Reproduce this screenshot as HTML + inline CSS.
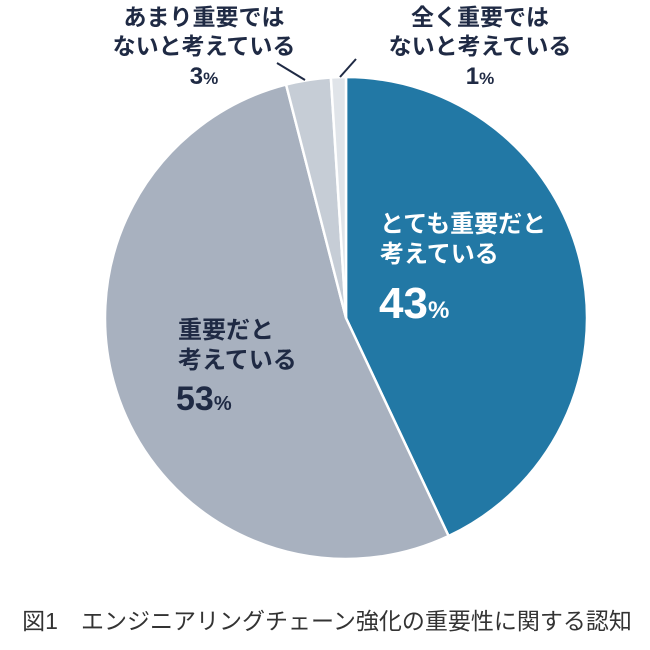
<!DOCTYPE html>
<html><head><meta charset="utf-8"><style>
body{margin:0;background:#fff;width:650px;height:645px;overflow:hidden;font-family:"Liberation Sans","Noto Sans CJK JP",sans-serif}
svg text{font-family:"Liberation Sans","Noto Sans CJK JP",sans-serif;font-weight:bold}
</style></head><body>
<svg width="650" height="645">
<g id="slices"></g>
<line x1="277" y1="63" x2="305" y2="80" stroke="#1f2a44" stroke-width="2"/>
<line x1="340" y1="77" x2="356" y2="59" stroke="#1f2a44" stroke-width="2"/>
<g fill="#1f2a44" font-size="23" text-anchor="middle">
<text x="204" y="25">あまり重要では</text><text x="204" y="54">ないと考えている</text><text x="204" y="84" font-size="24">3<tspan font-size="17">%</tspan></text></g>
<g fill="#1f2a44" font-size="23" text-anchor="middle">
<text x="480" y="25">全く重要では</text><text x="480" y="54">ないと考えている</text><text x="480" y="84" font-size="24">1<tspan font-size="17">%</tspan></text></g>
<g fill="#fff" font-size="24">
<text x="380" y="232">とても重要だと</text><text x="380" y="262">考えている</text><text x="379" y="318" font-size="44">43<tspan font-size="24">%</tspan></text></g>
<g fill="#1f2a44" font-size="24">
<text x="178" y="338">重要だと</text><text x="178" y="368">考えている</text><text x="176" y="410" font-size="34">53<tspan font-size="20">%</tspan></text></g>
<text x="327" y="629" text-anchor="middle" font-size="23" fill="#333" style="font-weight:normal">図1　エンジニアリングチェーン強化の重要性に関する認知</text>
</svg>
<script>
const categories=["とても重要だと考えている","重要だと考えている","あまり重要ではないと考えている","全く重要ではないと考えている"];
const values=[43,53,3,1];
const colors=["#2278a5","#a8b1bf","#c6cdd6","#e0e4e9"];
const cx=346,cy=318,r=241;
const g=document.getElementById('slices');
const total=values.reduce((a,b)=>a+b,0);
let a0=-Math.PI/2;
values.forEach((v,i)=>{
 const a1=a0+v/total*2*Math.PI;
 const x0=cx+r*Math.cos(a0),y0=cy+r*Math.sin(a0),x1=cx+r*Math.cos(a1),y1=cy+r*Math.sin(a1);
 const p=document.createElementNS('http://www.w3.org/2000/svg','path');
 p.setAttribute('d',`M${cx},${cy}L${x0},${y0}A${r},${r} 0 ${a1-a0>Math.PI?1:0} 1 ${x1},${y1}Z`);
 p.setAttribute('fill',colors[i]);p.setAttribute('stroke','#fff');p.setAttribute('stroke-width','2.5');
 
 
 g.appendChild(p);a0=a1;
});
</script>
</body></html>
